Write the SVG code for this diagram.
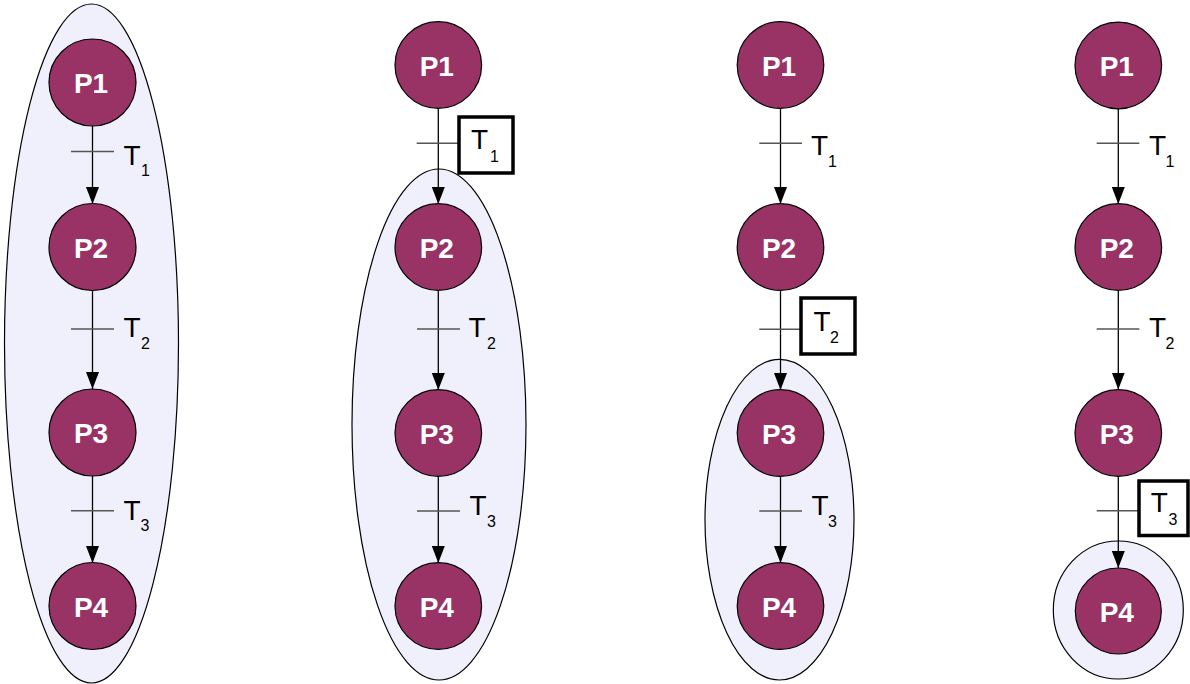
<svg xmlns="http://www.w3.org/2000/svg" width="1190" height="684" viewBox="0 0 1190 684">
<style>
.place{fill:#993366;stroke:#000;stroke-width:1.2}
.lbl{font-family:"Liberation Sans",Arial,sans-serif;font-weight:bold;font-size:28px;fill:#fff;text-anchor:middle}
.region{fill:#f0f0fc;stroke:#000;stroke-width:1.2}
.arc{stroke:#000;stroke-width:1.3;fill:none;marker-end:url(#ah)}
.bar{stroke:#555;stroke-width:1.5}
.box{fill:#fff;stroke:#000;stroke-width:3.5}
.t{font-family:"Liberation Sans",Arial,sans-serif;font-size:28px;fill:#000}
.s{font-family:"Liberation Sans",Arial,sans-serif;font-size:16px;fill:#000}
</style>
<defs>
<marker id="ah" markerUnits="userSpaceOnUse" markerWidth="17" markerHeight="13" refX="17" refY="6.5" orient="auto">
<path d="M0,0 L17,6.5 L0,13 z" fill="#000"/>
</marker>
</defs>
<rect width="1190" height="684" fill="#fff"/>
<g id="regions">
<ellipse class="region" cx="91.5" cy="343.5" rx="87" ry="339.5"/>
<ellipse class="region" cx="439" cy="424.5" rx="87" ry="255.5"/>
<ellipse class="region" cx="779.5" cy="519.7" rx="74.5" ry="160.3"/>
<ellipse class="region" cx="1118.3" cy="610" rx="65" ry="69"/>
</g>
<g id="connectors">
<line class="arc" x1="92.5" y1="126" x2="92.5" y2="204"/>
<line class="arc" x1="92.5" y1="290" x2="92.5" y2="389"/>
<line class="arc" x1="92.5" y1="476" x2="92.5" y2="563"/>
<line class="arc" x1="438.3" y1="108.3" x2="438.3" y2="204"/>
<line class="arc" x1="438.3" y1="290" x2="438.3" y2="390"/>
<line class="arc" x1="438.3" y1="476" x2="438.3" y2="563"/>
<line class="arc" x1="780.5" y1="108.3" x2="780.5" y2="204"/>
<line class="arc" x1="780.5" y1="290" x2="780.5" y2="390"/>
<line class="arc" x1="780.5" y1="476" x2="780.5" y2="563"/>
<line class="arc" x1="1118.3" y1="108.5" x2="1118.3" y2="204"/>
<line class="arc" x1="1118.3" y1="290" x2="1118.3" y2="389.5"/>
<line class="arc" x1="1118.3" y1="476" x2="1118.3" y2="568"/>
</g>
<g id="transitions">
<line class="bar" x1="71" y1="151.5" x2="114" y2="151.5"/>
<line class="bar" x1="71" y1="329" x2="114" y2="329"/>
<line class="bar" x1="71" y1="510.7" x2="114" y2="510.7"/>
<line class="bar" x1="416.7" y1="143.3" x2="458.3" y2="143.3"/>
<line class="bar" x1="417" y1="329" x2="460" y2="329"/>
<line class="bar" x1="417" y1="511" x2="460" y2="511"/>
<line class="bar" x1="759.3" y1="143.3" x2="802" y2="143.3"/>
<line class="bar" x1="759.3" y1="329.3" x2="800" y2="329.3"/>
<line class="bar" x1="759.3" y1="511" x2="802" y2="511"/>
<line class="bar" x1="1096.7" y1="143.3" x2="1139.3" y2="143.3"/>
<line class="bar" x1="1096.7" y1="329" x2="1139.3" y2="329"/>
<line class="bar" x1="1096.7" y1="510.7" x2="1138.3" y2="510.7"/>
<rect class="box" x="459" y="117" width="54" height="56"/>
<rect class="box" x="801" y="298" width="54" height="56"/>
<rect class="box" x="1139" y="481" width="49" height="54.5"/>
</g>
<g id="transition-labels">
<text class="t" x="123.5" y="165">T</text><text class="s" x="141" y="175.5">1</text>
<text class="t" x="123.5" y="337.3">T</text><text class="s" x="141" y="348.8">2</text>
<text class="t" x="123.5" y="520">T</text><text class="s" x="140.5" y="531">3</text>
<text class="t" x="471" y="149">T</text><text class="s" x="490" y="162">1</text>
<text class="t" x="468.5" y="337.3">T</text><text class="s" x="487" y="348.5">2</text>
<text class="t" x="469.5" y="515">T</text><text class="s" x="487" y="527">3</text>
<text class="t" x="811" y="155">T</text><text class="s" x="828" y="167">1</text>
<text class="t" x="813.5" y="330.7">T</text><text class="s" x="830" y="343">2</text>
<text class="t" x="811.5" y="515">T</text><text class="s" x="828" y="527">3</text>
<text class="t" x="1149" y="155">T</text><text class="s" x="1165.5" y="167">1</text>
<text class="t" x="1149" y="337.3">T</text><text class="s" x="1165.5" y="349.3">2</text>
<text class="t" x="1150.7" y="512.3">T</text><text class="s" x="1168.5" y="525.3">3</text>
</g>
<g id="c1-P1"><circle class="place" cx="92.5" cy="82.5" r="43.5"/><text class="lbl" x="91" y="93">P1</text></g>
<g id="c1-P2"><circle class="place" cx="92.5" cy="247" r="43.5"/><text class="lbl" x="91" y="257.5">P2</text></g>
<g id="c1-P3"><circle class="place" cx="92.5" cy="432.5" r="43.5"/><text class="lbl" x="91" y="443">P3</text></g>
<g id="c1-P4"><circle class="place" cx="92.5" cy="606" r="43.5"/><text class="lbl" x="91" y="616.5">P4</text></g>
<g id="c2-P1"><circle class="place" cx="438.3" cy="65" r="43.3"/><text class="lbl" x="436.8" y="75.5">P1</text></g>
<g id="c2-P2"><circle class="place" cx="438.3" cy="247" r="43.3"/><text class="lbl" x="436.8" y="257.5">P2</text></g>
<g id="c2-P3"><circle class="place" cx="438.3" cy="433" r="43.3"/><text class="lbl" x="436.8" y="443.5">P3</text></g>
<g id="c2-P4"><circle class="place" cx="438.3" cy="606" r="43.3"/><text class="lbl" x="436.8" y="616.5">P4</text></g>
<g id="c3-P1"><circle class="place" cx="780.5" cy="65" r="43.3"/><text class="lbl" x="779" y="75.5">P1</text></g>
<g id="c3-P2"><circle class="place" cx="780.5" cy="247" r="43.3"/><text class="lbl" x="779" y="257.5">P2</text></g>
<g id="c3-P3"><circle class="place" cx="780.5" cy="433" r="43.3"/><text class="lbl" x="779" y="443.5">P3</text></g>
<g id="c3-P4"><circle class="place" cx="780.5" cy="606" r="43.3"/><text class="lbl" x="779" y="616.5">P4</text></g>
<g id="c4-P1"><circle class="place" cx="1118.3" cy="65.5" r="43.3"/><text class="lbl" x="1116.8" y="76">P1</text></g>
<g id="c4-P2"><circle class="place" cx="1118.3" cy="247" r="43.3"/><text class="lbl" x="1116.8" y="257.5">P2</text></g>
<g id="c4-P3"><circle class="place" cx="1118.3" cy="433" r="43.3"/><text class="lbl" x="1116.8" y="443.5">P3</text></g>
<g id="c4-P4"><circle class="place" cx="1118.3" cy="611" r="43"/><text class="lbl" x="1116.8" y="621.5">P4</text></g>
</svg>
